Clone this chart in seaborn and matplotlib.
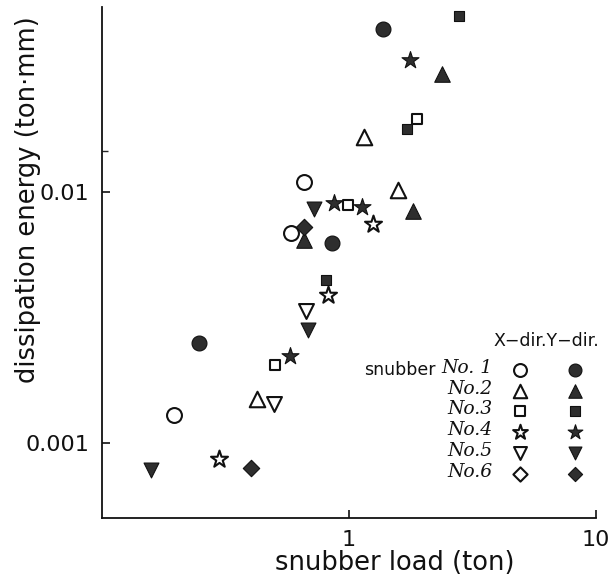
import numpy as np
import pandas as pd
import matplotlib
matplotlib.use("Agg")
import matplotlib.pyplot as plt
from matplotlib.ticker import FixedLocator, NullFormatter
import seaborn as sns

# ---- data ----
snubbers = ["No. 1", "No.2", "No.3", "No.4", "No.5", "No.6"]

# X-direction (open markers)
x1_load = [0.656, 0.584, 0.196]
x1_energy = [0.0110, 0.0069, 0.00129]
x2_load = [1.153, 1.58, 0.424]
x2_energy = [0.01664, 0.01018, 0.00150]
x3_load = [1.88, 0.988, 0.500]
x3_energy = [0.01954, 0.00893, 0.00205]
x4_load = [1.253, 0.821, 0.297]
x4_energy = [0.00745, 0.00387, 0.00086]
x5_load = [0.671, 0.497]
x5_energy = [0.00334, 0.00142]
x6_load = []
x6_energy = []

# Y-direction (filled markers)
y1_load = [1.367, 0.857, 0.248]
y1_energy = [0.0448, 0.00629, 0.00250]
y2_load = [2.37, 1.81, 0.656]
y2_energy = [0.0298, 0.00842, 0.00643]
y3_load = [2.78, 1.71, 0.810]
y3_energy = [0.0507, 0.01782, 0.00445]
y4_load = [1.767, 0.873, 1.125, 0.580]
y4_energy = [0.0337, 0.00906, 0.00874, 0.00222]
y5_load = [0.721, 0.681, 0.158]
y5_energy = [0.00855, 0.00281, 0.000778]
y6_load = [0.660, 0.403]
y6_energy = [0.00727, 0.000792]

x_ticks = [1, 10]
x_ticklabels = ["1", "10"]
y_ticks = [0.001, 0.01]
y_ticklabels = ["0.001", "0.01"]

# ---- build table ----
rows = []
xdir = [(x1_load, x1_energy), (x2_load, x2_energy), (x3_load, x3_energy),
        (x4_load, x4_energy), (x5_load, x5_energy), (x6_load, x6_energy)]
ydir = [(y1_load, y1_energy), (y2_load, y2_energy), (y3_load, y3_energy),
        (y4_load, y4_energy), (y5_load, y5_energy), (y6_load, y6_energy)]
for name, (ld, en) in zip(snubbers, xdir):
    for a, b in zip(ld, en):
        rows.append(dict(snubber=name, direction="X", load=a, energy=b))
for name, (ld, en) in zip(snubbers, ydir):
    for a, b in zip(ld, en):
        rows.append(dict(snubber=name, direction="Y", load=a, energy=b))
df = pd.DataFrame(rows)

# ---- style ----
sns.set_style("white")
plt.rcParams["font.family"] = ["DejaVu Sans"]

markers = {"No. 1": "o", "No.2": "^", "No.3": "s", "No.4": "*", "No.5": "v", "No.6": "D"}
sizes = {"No. 1": 115, "No.2": 125, "No.3": 62, "No.4": 165, "No.5": 115, "No.6": 70}
ink = "#111111"
fill = "#2e2e2e"

fig = plt.figure(figsize=(6.09, 5.80), dpi=100)
ax = fig.add_axes([0.167, 0.107, 0.812, 0.881])

for (name, d), sub in df.groupby(["snubber", "direction"]):
    if d == "X":
        sns.scatterplot(data=sub, x="load", y="energy", ax=ax, marker=markers[name],
                        s=sizes[name], facecolor="white", edgecolor=ink, linewidth=1.5,
                        zorder=3)
    else:
        sns.scatterplot(data=sub, x="load", y="energy", ax=ax, marker=markers[name],
                        s=sizes[name], color=fill, edgecolor=ink, linewidth=0.8,
                        zorder=3)

ax.set_xscale("log")
ax.set_yscale("log")
ax.set_xlim(0.1, 10)
ax.set_ylim(0.0005, 0.055)

ax.xaxis.set_major_locator(FixedLocator(x_ticks))
ax.set_xticklabels(x_ticklabels)
ax.xaxis.set_minor_locator(FixedLocator([]))
ax.yaxis.set_major_locator(FixedLocator(y_ticks))
ax.set_yticklabels(y_ticklabels)
ax.yaxis.set_minor_locator(FixedLocator([0.0146]))
ax.yaxis.set_minor_formatter(NullFormatter())

ax.tick_params(axis="both", which="major", direction="in", length=6, width=1.2,
               labelsize=16, colors=ink, pad=9, left=True, bottom=True)
ax.tick_params(axis="y", which="minor", direction="in", length=4, width=1.0, left=True)

for side in ["top", "right"]:
    ax.spines[side].set_visible(False)
for side in ["left", "bottom"]:
    ax.spines[side].set_color(ink)
    ax.spines[side].set_linewidth(1.3)

ax.set_xlabel("snubber load (ton)", fontsize=18.5, color=ink, va="center")
ax.xaxis.set_label_coords(0.593, -0.089)
ax.set_ylabel("dissipation energy (ton\u00b7mm)", fontsize=18.5, color=ink, va="center")
ax.yaxis.set_label_coords(-0.149, 0.622)

# ---- custom legend ----
col_x = [0.846, 0.957]
row0 = 0.290
step = 0.0407
ax.text(0.899, 0.346, "X\u2212dir.Y\u2212dir.", transform=ax.transAxes,
        ha="center", va="center", fontsize=12.5, color=ink)
ax.text(0.675, row0, "snubber", transform=ax.transAxes, ha="right", va="center",
        fontsize=12.5, color=ink)
for i, name in enumerate(snubbers):
    yy = row0 - i * step
    ax.text(0.790, yy + 0.004, name, transform=ax.transAxes, ha="right", va="center",
            fontsize=13.5, family="DejaVu Serif", style="italic", color=ink)
    ax.scatter([col_x[0]], [yy], transform=ax.transAxes, marker=markers[name],
               s=sizes[name] * 0.75, facecolor="white", edgecolor=ink, linewidth=1.5,
               clip_on=False, zorder=4)
    ax.scatter([col_x[1]], [yy], transform=ax.transAxes, marker=markers[name],
               s=sizes[name] * 0.75, color=fill, edgecolor=ink, linewidth=0.8,
               clip_on=False, zorder=4)

fig.savefig("out.png", dpi=100)
